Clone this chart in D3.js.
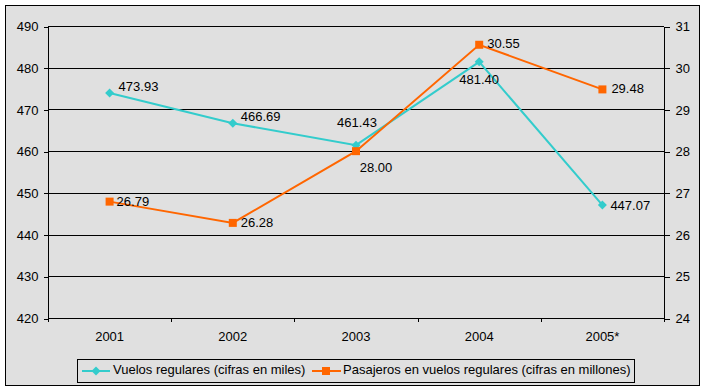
<!DOCTYPE html>
<html><head><meta charset="utf-8">
<script src="https://cdn.jsdelivr.net/npm/d3@7"></script>
<style>body{margin:0;background:#fff}svg{display:block}text{font-family:"Liberation Sans",Arial,sans-serif;font-size:13px;fill:#000}</style>
</head><body><svg id="c" width="705" height="391"></svg>
<script>
const categories = ["2001","2002","2003","2004","2005*"];
const vuelos = [473.93, 466.69, 461.43, 481.40, 447.07];
const pasajeros = [26.79, 26.28, 28.00, 30.55, 29.48];
const leftTicks = [420,430,440,450,460,470,480,490];
const rightTicks = [24,25,26,27,28,29,30,31];
const seriesNames = ["Vuelos regulares (cifras en miles)","Pasajeros en vuelos regulares (cifras en millones)"];
// label placement: [dx, dy, anchor]
const vuelosLabelPos = [[9,-5,"start"],[8,-6,"start"],[1,-22,"middle"],[0,19,"middle"],[8,1,"start"]];
const pasajerosLabelPos = [[7,1,"start"],[8,1,"start"],[20,17,"middle"],[8,0,"start"],[9,0,"start"]];

const svg = d3.select("#c");
const L=48, R=664, T=26, B=318;
svg.append("rect").attr("x",5.5).attr("y",5.5).attr("width",694).attr("height",380).attr("fill","#e0e0e0").attr("stroke","#000");

const x = d3.scaleBand().domain(categories).range([L,R]);
const yL = d3.scaleLinear().domain([420,490]).range([B,T]);
const yR = d3.scaleLinear().domain([24,31]).range([B,T]);

svg.append("g").selectAll("line").data(leftTicks).join("line")
  .attr("x1",L).attr("x2",R).attr("y1",d=>Math.round(yL(d))+0.5).attr("y2",d=>Math.round(yL(d))+0.5).attr("stroke","#000");

const axL = svg.append("g").attr("transform",`translate(${L+0.5},0.5)`).call(d3.axisLeft(yL).tickValues(leftTicks).tickSize(5).tickPadding(5).tickFormat(d3.format("d")));
const axR = svg.append("g").attr("transform",`translate(${R+0.5},0.5)`).call(d3.axisRight(yR).tickValues(rightTicks).tickSize(5).tickPadding(6).tickFormat(d3.format("d")));
const axB = svg.append("g").attr("transform",`translate(0,${B+0.5})`).call(d3.axisBottom(x).tickSize(0).tickPadding(13));
svg.append("g").selectAll("line").data(d3.range(categories.length+1)).join("line")
  .attr("x1",k=>Math.round(L+k*x.step())+0.5).attr("x2",k=>Math.round(L+k*x.step())+0.5)
  .attr("y1",B).attr("y2",B+4).attr("stroke","#000");
[axL,axR,axB].forEach(a=>{a.selectAll("path,line").attr("stroke","#000").attr("shape-rendering","crispEdges");a.selectAll("text").attr("font-size","13px").attr("font-family","Liberation Sans, Arial, sans-serif");});
axL.select(".domain").attr("d",`M0,${T}V${B}`);
axR.select(".domain").attr("d",`M0,${T}V${B}`);
axB.select(".domain").attr("d",`M${L},0H${R}`);

const cx = d=>x(d)+x.bandwidth()/2;
const cyan="#33cccc", orange="#ff6600";

const lineL = d3.line().x((d,i)=>cx(categories[i])).y(d=>yL(d));
const lineR = d3.line().x((d,i)=>cx(categories[i])).y(d=>yR(d));
svg.append("path").attr("d",lineL(vuelos)).attr("fill","none").attr("stroke",cyan).attr("stroke-width",2);
svg.append("path").attr("d",lineR(pasajeros)).attr("fill","none").attr("stroke",orange).attr("stroke-width",2);

const diamond = "M0,-4.5L4.5,0L0,4.5L-4.5,0Z";
svg.append("g").selectAll("path").data(vuelos).join("path")
  .attr("d",diamond).attr("transform",(d,i)=>`translate(${cx(categories[i])},${yL(d)})`).attr("fill",cyan);
svg.append("g").selectAll("rect").data(pasajeros).join("rect")
  .attr("x",(d,i)=>cx(categories[i])-4).attr("y",d=>yR(d)-4).attr("width",8).attr("height",8).attr("fill",orange);

svg.append("g").selectAll("text").data(vuelos).join("text")
  .attr("x",(d,i)=>cx(categories[i])+vuelosLabelPos[i][0]).attr("y",(d,i)=>yL(d)+vuelosLabelPos[i][1])
  .attr("text-anchor",(d,i)=>vuelosLabelPos[i][2]).attr("dominant-baseline","middle").text(d=>d.toFixed(2));
svg.append("g").selectAll("text").data(pasajeros).join("text")
  .attr("x",(d,i)=>cx(categories[i])+pasajerosLabelPos[i][0]).attr("y",(d,i)=>yR(d)+pasajerosLabelPos[i][1])
  .attr("text-anchor",(d,i)=>pasajerosLabelPos[i][2]).attr("dominant-baseline","middle").text(d=>d.toFixed(2));

const lg = svg.append("g");
lg.append("rect").attr("x",77.5).attr("y",359.5).attr("width",557).attr("height",23).attr("fill","#e0e0e0").attr("stroke","#000");
const ly=371;
lg.append("line").attr("x1",82).attr("x2",110).attr("y1",ly).attr("y2",ly).attr("stroke",cyan).attr("stroke-width",2);
lg.append("path").attr("d",diamond).attr("transform",`translate(96,${ly})`).attr("fill",cyan);
lg.append("text").attr("x",113).attr("y",ly).attr("dominant-baseline","middle").text(seriesNames[0]);
lg.append("line").attr("x1",312).attr("x2",341).attr("y1",ly).attr("y2",ly).attr("stroke",orange).attr("stroke-width",2);
lg.append("rect").attr("x",322).attr("y",ly-4).attr("width",8).attr("height",8).attr("fill",orange);
lg.append("text").attr("x",343).attr("y",ly).attr("dominant-baseline","middle").text(seriesNames[1]);
</script></body></html>
